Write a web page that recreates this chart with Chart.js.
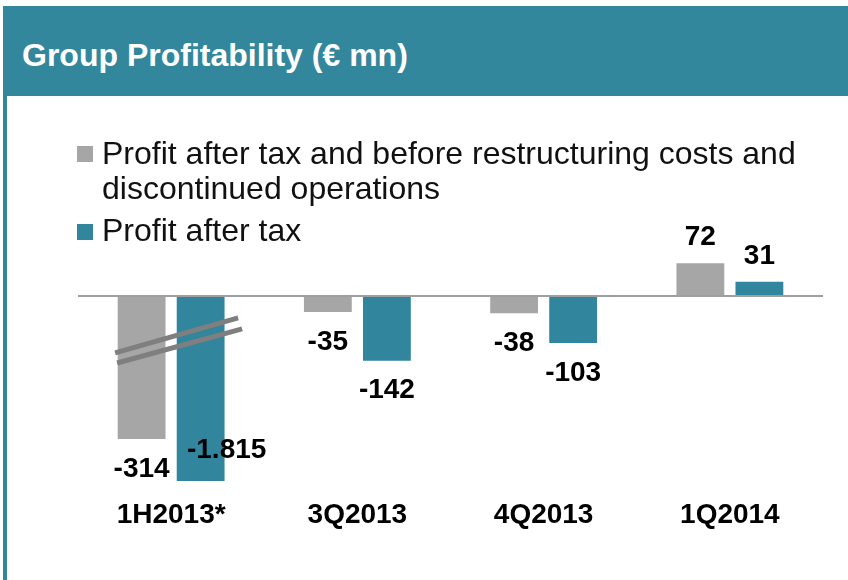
<!DOCTYPE html>
<html>
<head>
<meta charset="utf-8">
<script src="https://cdn.jsdelivr.net/npm/chart.js@4.4.1/dist/chart.umd.min.js"></script>
<style>
  html, body { margin: 0; padding: 0; background: #fff; }
  #wrap { position: relative; width: 848px; height: 580px; overflow: hidden; font-family: "Liberation Sans", Arial, sans-serif; }
  #header { position: absolute; left: 3px; top: 6px; width: 845px; height: 90px; background: #33879c; }
  #header span { position: absolute; left: 19px; top: 31px; color: #fff; font-weight: bold; font-size: 32px; line-height: 36px; white-space: nowrap; }
  #leftbar { position: absolute; left: 3px; top: 96px; width: 4px; height: 484px; background: #33879c; }
  .leg { position: absolute; left: 102px; font-size: 32px; line-height: 35px; color: #111; white-space: nowrap; }
  .sw { position: absolute; left: 77px; width: 16px; height: 16px; }
  canvas { position: absolute; left: 0; top: 0; }
</style>
</head>
<body>
<div id="wrap">
  <canvas id="myChart" width="848" height="580"></canvas>
  <div id="header"><span>Group Profitability (€ mn)</span></div>
  <div id="leftbar"></div>
  <div class="sw" style="top:146px;background:#a6a6a6"></div>
  <div class="leg" style="top:136px">Profit after tax and before restructuring costs and<br>discontinued operations</div>
  <div class="sw" style="top:224px;background:#31859c"></div>
  <div class="leg" style="top:213px">Profit after tax</div>
</div>
<script>
const labels = ["1H2013*", "3Q2013", "4Q2013", "1Q2014"];
const beforeRestructuring = [-314, -35, -38, 72];
const afterTax = [-1815, -142, -103, 31];
const seriesNames = ["Profit after tax and before restructuring costs and discontinued operations", "Profit after tax"];

const COLORS = { grey: '#a6a6a6', teal: '#31859c' };

// thousand separator like the slide: -1.815
function fmt(v) {
  const s = String(Math.abs(v)).replace(/\B(?=(\d{3})+(?!\d))/g, '.');
  return (v < 0 ? '-' : '') + s;
}

const drawExtras = {
  id: 'drawExtras',
  afterDatasetsDraw(chart) {
    const ctx = chart.ctx;
    const area = chart.chartArea;
    const x = chart.scales.x, y = chart.scales.y;
    const y0 = y.getPixelForValue(0);
    ctx.save();
    // zero line
    ctx.strokeStyle = '#9f9f9f';
    ctx.lineWidth = 2;
    ctx.beginPath();
    ctx.moveTo(area.left, y0);
    ctx.lineTo(area.right, y0);
    ctx.stroke();

    // axis break marks on first group
    const cx = x.getPixelForValue(0);
    ctx.strokeStyle = '#7f7f7f';
    ctx.lineWidth = 5;
    [[-125, -48], [-147, -72]].forEach((p, i) => {
      ctx.beginPath();
      ctx.moveTo(cx - 56 + i * 2, y.getPixelForValue(p[0]));
      ctx.lineTo(cx + 67 + i * 4, y.getPixelForValue(p[1]));
      ctx.stroke();
    });

    // value labels
    ctx.fillStyle = '#000';
    ctx.font = 'bold 28px "Liberation Sans", Arial, sans-serif';
    ctx.textAlign = 'center';
    ctx.textBaseline = 'middle';
    chart.data.datasets.forEach((ds, di) => {
      const meta = chart.getDatasetMeta(di);
      meta.data.forEach((bar, i) => {
        const v = ds.data[i];
        if (v < y.min) {
          ctx.fillText(fmt(v), bar.x + 26, area.bottom - 31);
        } else if (v < 0) {
          ctx.fillText(fmt(v), bar.x, bar.y + 30);
        } else {
          ctx.fillText(fmt(v), bar.x, bar.y - 26);
        }
      });
    });

    // category labels
    labels.forEach((l, i) => {
      ctx.fillText(l, x.getPixelForValue(i), area.bottom + 34);
    });
    ctx.restore();
  }
};

const data = {
  labels: labels,
  datasets: [
    {
      label: seriesNames[0],
      data: beforeRestructuring,
      backgroundColor: COLORS.grey
    },
    {
      label: seriesNames[1],
      data: afterTax,
      backgroundColor: COLORS.teal
    }
  ]
};

const config = {
  type: 'bar',
  data: data,
  options: {
    responsive: false,
    animation: false,
    categoryPercentage: 0.634,
    barPercentage: 0.81,
    layout: { padding: { left: 78, right: 25, top: 260, bottom: 99 } },
    scales: {
      x: { display: false },
      y: { display: false, min: -406, max: 79 }
    },
    plugins: {
      legend: { display: false },
      tooltip: { enabled: false }
    }
  },
  plugins: [drawExtras]
};

const myChart = new Chart(document.getElementById('myChart'), config);
</script>
</body>
</html>
